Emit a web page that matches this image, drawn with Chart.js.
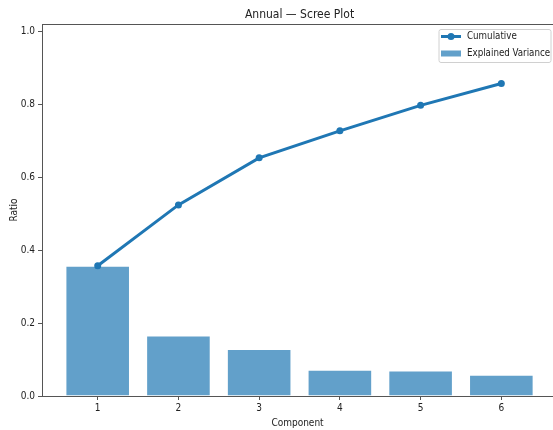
<!DOCTYPE html>
<html>
<head>
<meta charset="utf-8">
<script src="https://cdn.jsdelivr.net/npm/chart.js@4"></script>
<style>
  html, body { margin: 0; padding: 0; background: #fff; overflow: hidden; }
  #chartCanvas { display: block; }
</style>
</head>
<body>
<canvas id="chartCanvas" width="553" height="430"></canvas>
<script>
// values
const components = [1, 2, 3, 4, 5, 6];
const explainedVariance = [0.357, 0.166, 0.129, 0.072, 0.070, 0.058];
const cumulative = [0.357, 0.524, 0.653, 0.727, 0.797, 0.857];
const yTicks = [0.0, 0.2, 0.4, 0.6, 0.8, 1.0];
const seriesNames = ["Cumulative", "Explained Variance"];
const chartTitle = "Annual — Scree Plot";

const FONT = "'DejaVu Sans Condensed', 'DejaVu Sans', sans-serif";
const TEXT = "#222";
const SPINE = "#555";
const lineColor = "#1f77b4";
const barColor = "rgba(31, 119, 180, 0.7)";

Chart.defaults.font.family = FONT;
Chart.defaults.font.size = 10;
Chart.defaults.color = TEXT;

// title, top spine and legend box drawn on the canvas (matplotlib style)
const framePlugin = {
  id: "frame",
  afterDraw(chart) {
    const ctx = chart.ctx;
    const area = chart.chartArea;
    ctx.save();

    ctx.strokeStyle = SPINE;
    ctx.lineWidth = 1;
    ctx.beginPath();
    ctx.moveTo(area.left, Math.round(area.top) + 0.5);
    ctx.lineTo(area.right, Math.round(area.top) + 0.5);
    ctx.stroke();

    // axes run from 0.31 to 6.69, so the title sits over 3.5
    ctx.fillStyle = TEXT;
    ctx.font = "12px " + FONT;
    ctx.textAlign = "center";
    ctx.textBaseline = "alphabetic";
    ctx.fillText(chartTitle, chart.scales.x.getPixelForValue(3.5), 17.5);

    // legend
    const bx = area.right - 114.5, by = area.top + 5, bw = 112, bh = 33;
    ctx.beginPath();
    ctx.roundRect(bx + 0.5, by + 0.5, bw, bh, 2);
    ctx.fillStyle = "rgba(255,255,255,0.8)";
    ctx.fill();
    ctx.strokeStyle = "#d0d0d0";
    ctx.stroke();

    const hx = bx + 2.5, hw = 20;
    const y1 = by + 7.5, y2 = by + 24.5;
    ctx.strokeStyle = lineColor;
    ctx.lineWidth = 3;
    ctx.beginPath();
    ctx.moveTo(hx, y1);
    ctx.lineTo(hx + hw, y1);
    ctx.stroke();
    ctx.fillStyle = lineColor;
    ctx.beginPath();
    ctx.arc(hx + hw / 2, y1, 3.5, 0, Math.PI * 2);
    ctx.fill();

    ctx.fillStyle = barColor;
    ctx.fillRect(hx, y2 - 3, hw, 6);

    ctx.fillStyle = TEXT;
    ctx.font = "9.7px " + FONT;
    ctx.textAlign = "left";
    ctx.textBaseline = "middle";
    ctx.fillText(seriesNames[0], hx + 26, y1);
    ctx.fillText(seriesNames[1], hx + 26, y2);
    ctx.restore();
  }
};

function renderChart() {
  const ctx = document.getElementById("chartCanvas").getContext("2d");

  new Chart(ctx, {
    type: "bar",
    data: {
      datasets: [
        {
          type: "line",
          label: seriesNames[0],
          data: components.map((c, i) => ({ x: c, y: cumulative[i] })),
          borderColor: lineColor,
          backgroundColor: lineColor,
          borderWidth: 3,
          pointRadius: 3.5,
          pointBorderWidth: 0,
          pointBackgroundColor: lineColor,
          tension: 0,
          order: 0
        },
        {
          label: seriesNames[1],
          data: components.map((c, i) => ({ x: c, y: explainedVariance[i] })),
          backgroundColor: barColor,
          borderColor: "rgba(255,255,255,0.5)",
          borderWidth: 1,
          categoryPercentage: 1,
          barPercentage: 0.8,
          order: 1
        }
      ]
    },
    options: {
      responsive: false,
      animation: false,
      devicePixelRatio: 1,
      layout: { autoPadding: false, padding: { top: 24, right: 0, bottom: 0, left: 0 } },
      plugins: {
        legend: { display: false },
        tooltip: { enabled: false }
      },
      scales: {
        x: {
          type: "linear",
          offset: false,
          min: 0.31,
          max: 6.64,
          afterBuildTicks: s => { s.ticks = components.map(v => ({ value: v })); },
          afterFit: s => { s.height = 34; s.paddingLeft = 0; s.paddingRight = 0; },
          ticks: { callback: v => String(v), padding: 2, maxRotation: 0, autoSkip: false, color: TEXT },
          grid: { offset: false, drawOnChartArea: false, tickLength: 4, tickColor: SPINE, tickWidth: 1 },
          border: { color: SPINE, width: 1 },
          title: { display: true, text: "Component", color: TEXT, padding: { top: 0, bottom: 1 } }
        },
        y: {
          min: 0,
          max: 1.02,
          afterBuildTicks: s => { s.ticks = yTicks.map(v => ({ value: v })); },
          afterFit: s => { s.width = 42; },
          ticks: { callback: v => v.toFixed(1), padding: 3, color: TEXT },
          grid: { drawOnChartArea: false, tickLength: 4, tickColor: SPINE, tickWidth: 1 },
          border: { color: SPINE, width: 1 },
          title: { display: true, text: "Ratio", color: TEXT, padding: { top: 8, bottom: 0 } }
        }
      }
    },
    plugins: [framePlugin]
  });
}

window.onload = renderChart;
</script>
</body>
</html>
